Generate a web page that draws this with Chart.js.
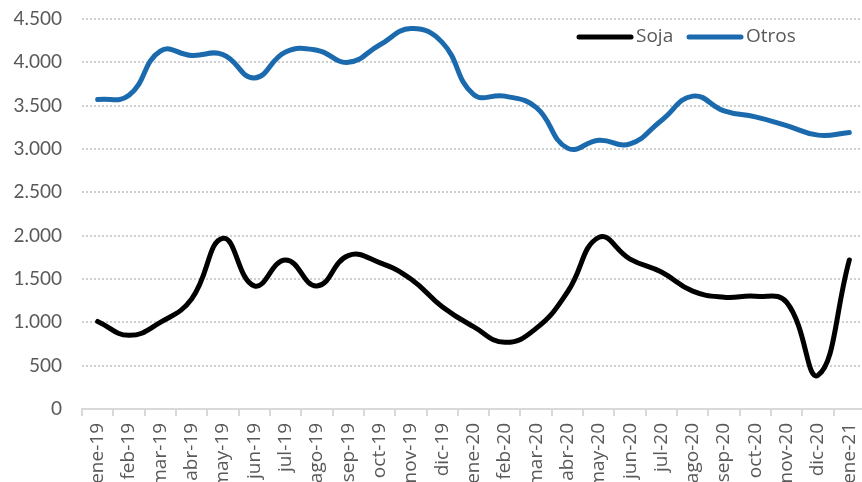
<!DOCTYPE html>
<html>
<head>
<meta charset="utf-8">
<script src="https://cdn.jsdelivr.net/npm/chart.js@4.4.1/dist/chart.umd.min.js"></script>
<style>
  html, body { margin: 0; padding: 0; background: #ffffff; overflow: hidden; }
  #wrap { position: relative; width: 866px; height: 482px; }
</style>
</head>
<body>
<div id="wrap"><canvas id="c" width="866" height="482"></canvas></div>
<script>
const categories = ["ene-19","feb-19","mar-19","abr-19","may-19","jun-19","jul-19","ago-19","sep-19","oct-19","nov-19","dic-19",
  "ene-20","feb-20","mar-20","abr-20","may-20","jun-20","jul-20","ago-20","sep-20","oct-20","nov-20","dic-20","ene-21"];
const soja = [1010, 850, 1000, 1270, 1970, 1420, 1720, 1420, 1770, 1690, 1500, 1180,
  950, 770, 930, 1350, 1980, 1730, 1580, 1360, 1290, 1300, 1230, 390, 1720];
const otros = [3570, 3620, 4130, 4080, 4090, 3820, 4120, 4140, 4000, 4200, 4390, 4230,
  3630, 3610, 3480, 3010, 3100, 3060, 3330, 3610, 3440, 3370, 3270, 3160, 3190];
const seriesNames = ["Soja", "Otros"];
const seriesColors = ["#000000", "#1a6aad"];
const yTicks = [0, 500, 1000, 1500, 2000, 2500, 3000, 3500, 4000, 4500];

const fmt = v => v.toLocaleString('de-DE');

const legendPlugin = {
  id: 'customLegend',
  afterDraw(chart) {
    const ctx = chart.ctx;
    const y = 37;
    const starts = [577, 687];
    ctx.save();
    ctx.font = '19px "Open Sans"';
    ctx.textBaseline = 'middle';
    chart.data.datasets.forEach((ds, i) => {
      const x = starts[i];
      ctx.strokeStyle = ds.borderColor;
      ctx.lineWidth = 5;
      ctx.lineCap = 'round';
      ctx.beginPath();
      ctx.moveTo(x + 2, y);
      ctx.lineTo(x + 54, y);
      ctx.stroke();
      ctx.fillStyle = '#595959';
      ctx.fillText(ds.label, x + 59, y);
    });
    ctx.restore();
  }
};

new Chart(document.getElementById('c'), {
  type: 'line',
  data: {
    labels: categories,
    datasets: [
      { label: seriesNames[0], data: soja, borderColor: seriesColors[0], backgroundColor: seriesColors[0],
        borderWidth: 5, pointRadius: 0, tension: 0.45, borderCapStyle: 'round', fill: false },
      { label: seriesNames[1], data: otros, borderColor: seriesColors[1], backgroundColor: seriesColors[1],
        borderWidth: 5, pointRadius: 0, tension: 0.45, borderCapStyle: 'round', fill: false }
    ]
  },
  options: {
    responsive: false,
    animation: false,
    events: [],
    layout: { padding: { top: 19, right: 1, left: 0, bottom: 0 } },
    plugins: { legend: { display: false }, tooltip: { enabled: false } },
    scales: {
      x: {
        offset: true,
        grid: { offset: true, drawOnChartArea: false, drawTicks: true, tickLength: 7, color: '#d9d9d9', lineWidth: 2 },
        border: { display: true, color: '#d9d9d9', width: 2 },
        ticks: { autoSkip: false, maxRotation: 90, minRotation: 90, padding: 7, color: '#595959',
          font: { family: '"Open Sans"', size: 19 } },
        afterFit(scale) { scale.height = 73; scale.paddingLeft = 0; scale.paddingRight = 0; }
      },
      y: {
        min: 0, max: 4500,
        afterBuildTicks(scale) { scale.ticks = yTicks.map(v => ({ value: v })); },
        grid: { drawTicks: false, color: '#cfcfcf', lineWidth: 2 },
        border: { display: false, dash: [2, 2] },
        ticks: { padding: 20, color: '#595959', font: { family: 'Lato', size: 19 }, callback: v => fmt(v) },
        afterFit(scale) { scale.width = 82; scale.paddingTop = 0; scale.paddingBottom = 0; }
      }
    }
  },
  plugins: [legendPlugin]
});
</script>
</body>
</html>
